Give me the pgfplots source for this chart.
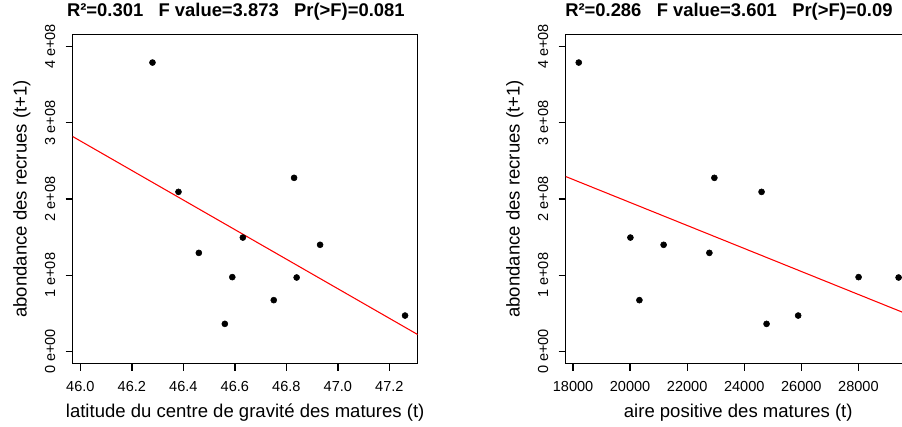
\documentclass[border=0pt]{standalone}
\usepackage{fontspec}
\setmainfont{Liberation Sans}
\usepackage{pgfplots}
\pgfplotsset{compat=1.18}
\begin{document}
\begin{tikzpicture}
\pgfplotsset{
  rstyle/.style={
    scale only axis, width=258.75pt, height=247.05pt,
    axis line style={line width=1pt, black},
    tick align=outside, major tick length=5.25pt,
    tick style={line width=1pt, black},
    xtick pos=left, ytick pos=left,
    scaled x ticks=false, scaled y ticks=false,
    /pgf/number format/assume math mode=true,
    ymin=-0.16e8, ymax=4.16e8,
    ytick={0,1e8,2e8,3e8,4e8},
    yticklabels={0 e+00,1 e+08,2 e+08,3 e+08,4 e+08},
    tick label style={font=\fontsize{10.9pt}{13pt}\selectfont, inner sep=0pt},
    xticklabel style={anchor=base, yshift=-15.6pt},
    yticklabel style={anchor=base, rotate=90, yshift=7.9pt},
    label style={font=\fontsize{13.9pt}{16pt}\selectfont, inner sep=0pt},
    xlabel style={at={(axis description cs:0.5,0)}, anchor=base, yshift=-40.2pt},
    ylabel style={at={(axis description cs:0,0.5)}, anchor=base, yshift=34.5pt},
    title style={font=\fontsize{13.8pt}{16pt}\selectfont\bfseries, at={(axis description cs:0.5,1)}, anchor=base, yshift=7.5pt, xshift=-7pt, inner sep=0pt},
    ylabel={abondance des recrues (t+1)},
  },
  dots/.style={only marks, mark=*, mark size=2.25pt, black, mark options={fill=black, draw=black}},
  fit/.style={red, line width=0.8pt, no marks},
}
\begin{axis}[rstyle, at={(54.5pt,46.7pt)}, anchor=south west,
  xmin=45.970, xmax=47.310,
  xtick={46.0,46.2,46.4,46.6,46.8,47.0,47.2},
  xticklabels={46.0,46.2,46.4,46.6,46.8,47.0,47.2},
  xlabel={latitude du centre de gravité des matures (t)},
  title={R²=0.301\ \ \ F value=3.873\ \ \ Pr(>F)=0.081},
]
\addplot[dots] coordinates {
 (46.280,3.79e8) (46.381,2.094e8) (46.830,2.278e8) (46.631,1.495e8)
 (46.460,1.294e8) (46.931,1.400e8) (46.590,0.976e8) (46.840,0.971e8)
 (46.751,0.674e8) (46.561,0.363e8) (47.261,0.472e8)
};
\addplot[fit] coordinates {(45.970,2.82e8) (47.310,0.223e8)};
\end{axis}
\begin{axis}[rstyle, at={(424.3pt,46.7pt)}, anchor=south west,
  xmin=17744, xmax=29835,
  xtick={18000,20000,22000,24000,26000,28000},
  xticklabels={18000,20000,22000,24000,26000,28000},
  xlabel={aire positive des matures (t)},
  title={R²=0.286\ \ \ F value=3.601\ \ \ Pr(>F)=0.09},
]
\addplot[dots] coordinates {
 (18200,3.79e8) (22953,2.278e8) (24607,2.094e8) (20010,1.495e8)
 (21174,1.400e8) (22778,1.294e8) (20326,0.674e8) (24782,0.363e8)
 (25890,0.472e8) (28007,0.976e8) (29409,0.971e8)
};
\addplot[fit] coordinates {(17744,2.295e8) (29835,0.472e8)};
\end{axis}
\pgfresetboundingbox
\useasboundingbox (0,0) rectangle (676.5pt,319.5pt);
\end{tikzpicture}
\end{document}
